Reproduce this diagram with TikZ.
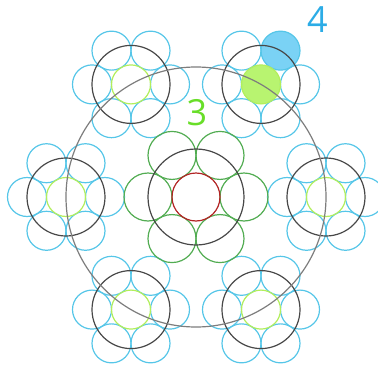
\documentclass[tikz,border=0pt]{standalone}
\usepackage{fontspec}
\setmainfont{Open Sans}
\definecolor{ringblue}{RGB}{86,198,232}
\definecolor{fillblue}{RGB}{122,210,245}
\definecolor{limegreen}{RGB}{178,238,92}
\definecolor{fillgreen}{RGB}{184,244,112}
\definecolor{midgreen}{RGB}{82,172,82}
\definecolor{coreRed}{RGB}{178,36,36}
\definecolor{darkring}{RGB}{72,72,72}
\definecolor{grayring}{RGB}{125,125,125}
\definecolor{labelgreen}{RGB}{104,222,40}
\definecolor{labelblue}{RGB}{44,172,230}
\begin{document}
\begin{tikzpicture}[x=1pt,y=1pt,line width=1.2pt,
    numlabel/.style={font=\fontsize{36}{36}\selectfont,inner sep=0pt}]
        \useasboundingbox (-196,-168) rectangle (182,197);
        % filled discs of the upper right group
        \begin{scope}[shift={(60:130)}]
            \fill[fillgreen] (0,0) circle (19.5);
            \fill[fillblue] (60:39) circle (19.5);
        \end{scope}
        % six outer groups
        \foreach \a in {0,60,...,300}{
            \begin{scope}[shift={(\a:130)}]
                \foreach \b in {0,60,...,300}
                    \draw[ringblue] (\b:39) circle (19.5);
                \draw[limegreen] (0,0) circle (19.5);
                \draw[darkring] (0,0) circle (39);
            \end{scope}
        }
        % middle group
        \foreach \b in {0,60,...,300}
            \draw[midgreen] (\b:48) circle (24);
        \draw[coreRed] (0,0) circle (24);
        \draw[darkring] (0,0) circle (48);
        \draw[grayring] (0,0) circle (130);
        \node[numlabel,text=labelgreen] (three) at (1,84) {3};
        \node[numlabel,text=labelblue] (four) at (121.5,177) {4};
    \end{tikzpicture}
\end{document}
